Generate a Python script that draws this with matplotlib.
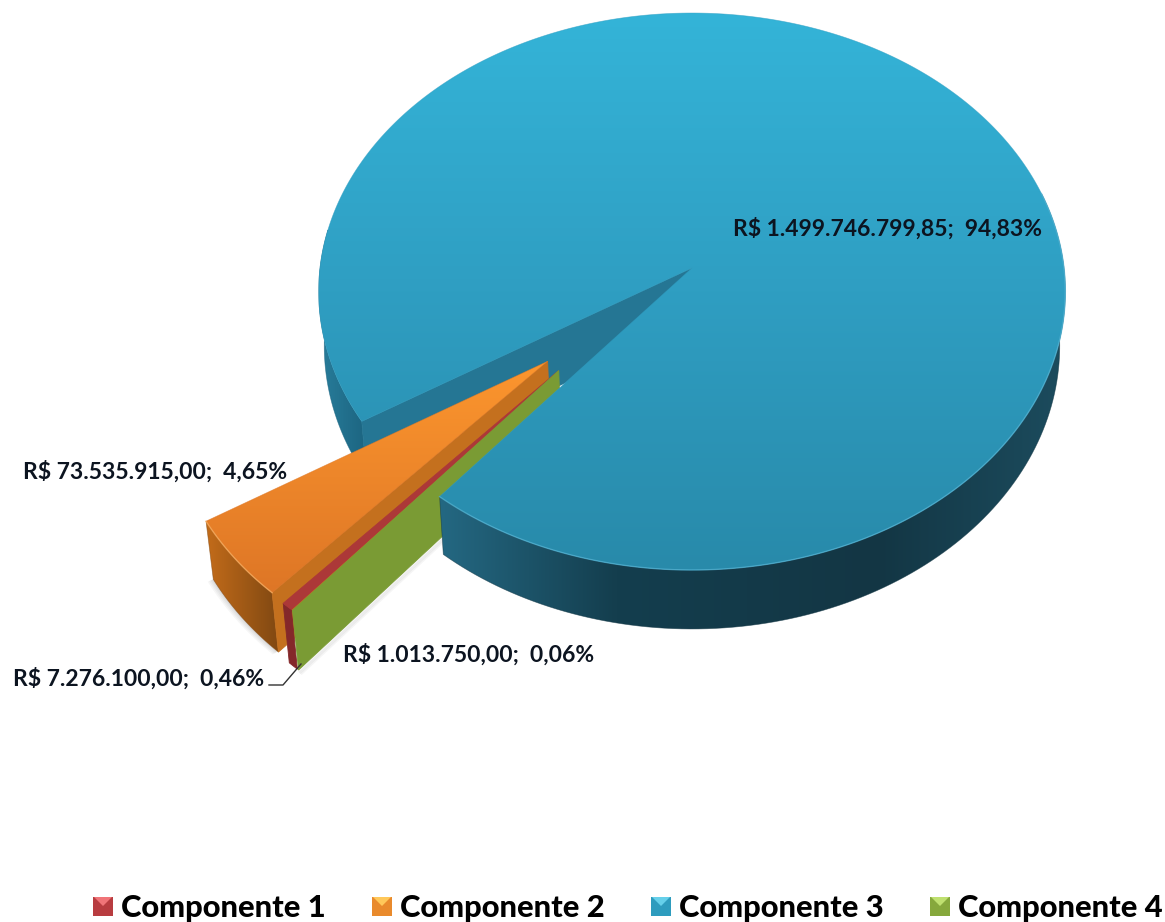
import numpy as np
import matplotlib
matplotlib.use("Agg")
import matplotlib.pyplot as plt
from matplotlib.patches import Polygon, Rectangle

componentes = ["Componente 1", "Componente 2", "Componente 3", "Componente 4"]
valores = [7276100.00, 73535915.00, 1499746799.85, 1013750.00]
percentuais = [0.46, 4.65, 94.83, 0.06]

# projecao do disco (unidades do raio) para pixels
CX, Y0 = 692.0, 268.0
A, B, K = 372.0, 276.5, 0.0844
ALTURA = 54.0
INICIO_C3 = 212.0  # angulo onde comeca a fatia 3, sentido horario
EXPLODE = {0: (0.5, 226.0), 1: (0.5, 221.0), 3: (0.5, 226.0)}
RAIO_SOLTO = 0.985

plt.rcParams["font.family"] = ["Lato", "DejaVu Sans"]

fig = plt.figure(figsize=(11.65, 9.22), dpi=100)
ax = fig.add_axes([0, 0, 1, 1])
ax.set_axis_off()
ax.set_xlim(0, 1165)
ax.set_ylim(922, 0)
ax.set_autoscale_on(False)


def proj(u, v, h=0.0):
    w = 1 + K * v
    x = CX + A * u / w
    y = Y0 - B * v / w
    if h:
        x = CX + (x - CX) * 0.985
        y = y + h / w
    return np.column_stack([np.atleast_1d(x), np.atleast_1d(y)])


def deslocamento(i):
    if i not in EXPLODE:
        return 0.0, 0.0
    m, a = EXPLODE[i]
    return m * np.cos(np.radians(a)), m * np.sin(np.radians(a))


def aro(ang1, ang2, i=None, h=0.0, n=120):
    t = np.radians(np.linspace(ang1, ang2, n))
    du, dv = deslocamento(i)
    r = RAIO_SOLTO if i in EXPLODE else 1.0
    return proj(du + r * np.cos(t), dv + r * np.sin(t), h)


def centro(i=None, h=0.0):
    du, dv = deslocamento(i)
    return proj(du, dv, h)


def solido(pts, cor, z):
    c = tuple(k / 255 for k in cor)
    ax.add_patch(Polygon(pts, closed=True, fc=c, ec=c, lw=0.6, zorder=z))


def verlauf(pts, paradas, z, horizontal=False):
    # gradiente recortado pelo poligono
    x0, y0 = pts.min(axis=0)
    x1, y1 = pts.max(axis=0)
    pos = np.linspace(0, 1, 256)
    arr = np.stack([np.interp(pos, [p[0] for p in paradas], [p[1][c] / 255 for p in paradas])
                    for c in range(3)], axis=-1)
    arr = arr[np.newaxis, :, :] if horizontal else arr[:, np.newaxis, :]
    im = ax.imshow(arr, extent=(x0, x1, y1, y0), aspect="auto", zorder=z, interpolation="bilinear")
    im.set_clip_path(Polygon(pts, closed=True, transform=ax.transData))
    cor = paradas[len(paradas) // 2][1]
    ax.add_patch(Polygon(pts, closed=True, fc="none", ec=tuple(c / 255 for c in cor),
                         lw=0.5, alpha=0.6, zorder=z + 0.1))


def parede(ang1, ang2, i=None):
    return np.vstack([aro(ang1, ang2, i), aro(ang2, ang1, i, ALTURA)])


def lado(ang, i=None):
    return np.vstack([centro(i), aro(ang, ang, i, n=1), aro(ang, ang, i, ALTURA, n=1), centro(i, ALTURA)])


# angulos a partir dos valores (horario: 3 -> 4 -> 1 -> 2)
total = sum(valores)
varre = [v / total * 360 for v in valores]
c2_ini = INICIO_C3 + varre[1]
c1_ini = c2_ini + varre[0]
c4_ini = c1_ini + varre[3]
c3_fim = INICIO_C3 - varre[2]

# fatia 3: fundo (parede lateral esquerda e corte)
verlauf(parede(INICIO_C3, 172), [(0, (40, 125, 155)), (1, (28, 100, 128))], 1, horizontal=True)
solido(lado(INICIO_C3), (37, 118, 148), 2)

# sombra suave abaixo das fatias soltas
contorno = np.vstack([aro(INICIO_C3, c2_ini, 1, ALTURA), centro(1, ALTURA)])
for s in (2, 4, 6, 8):
    ax.add_patch(Polygon(contorno + [-s * 0.7, s * 0.3], closed=True, fc="black", ec="none",
                         alpha=0.035, zorder=3))
base_v = np.vstack([aro(c4_ini, c4_ini, 3, ALTURA, n=1), centro(3, ALTURA)])
for s in (1.5, 3, 4.5):
    ax.plot(base_v[:, 0] + s * 0.7, base_v[:, 1] + s * 0.7, color="black", lw=2, alpha=0.04, zorder=3)

# componente 2
verlauf(parede(INICIO_C3, c2_ini, 1), [(0, (195, 108, 26)), (1, (128, 72, 18))], 4, horizontal=True)
solido(lado(c2_ini, 1), (196, 112, 30), 5)
topo2 = np.vstack([centro(1), aro(INICIO_C3, c2_ini, 1)])
verlauf(topo2, [(0, (252, 150, 46)), (1, (222, 118, 38))], 6)
ax.plot(*aro(INICIO_C3, c2_ini, 1).T, color=(0.98, 0.7, 0.4), lw=1, alpha=0.7, zorder=6.5)

# componente 1
solido(parede(c2_ini, c1_ini, 0), (132, 40, 42), 7)
solido(np.vstack([centro(0), aro(c2_ini, c1_ini, 0)]), (172, 56, 56), 8)

# componente 4: praticamente so a parede aparece
solido(lado(c4_ini, 3), (122, 155, 52), 9)

# fatia 3: frente e topo
verlauf(parede(c3_fim, 16), [(0, (36, 104, 130)), (0.28, (20, 62, 78)), (0.7, (19, 54, 68)),
                             (1, (28, 76, 94))], 10, horizontal=True)
topo3 = np.vstack([centro(), aro(INICIO_C3, c3_fim, None, n=500)])
verlauf(topo3, [(0, (52, 180, 216)), (0.5, (47, 158, 194)), (1, (40, 138, 170))], 11)
ax.plot(*aro(c3_fim, 16).T, color=(0.35, 0.72, 0.85), lw=1, alpha=0.6, zorder=12)

# linha guia do rotulo da componente 1
guia_x = [301, 283, 269]
guia_y = [664, 685, 685]
ax.plot(guia_x, guia_y, color="#333333", lw=1, zorder=13)


def rotulo(i):
    v = f"{valores[i]:,.2f}".replace(",", "#").replace(".", ",").replace("#", ".")
    p = f"{percentuais[i]:.2f}".replace(".", ",")
    return f"R$ {v};  {p}%"


pos_rotulos = {2: (733, 229), 1: (23, 472), 0: (13, 679), 3: (343, 655)}
for i, (x, y) in pos_rotulos.items():
    ax.text(x, y, rotulo(i), fontsize=16.5, fontweight="bold", color="#0c1420",
            ha="left", va="center", zorder=14)

# legenda
cores_leg = ["#b83c40", "#e98a2c", "#2e9cbe", "#86a83c"]
claras_leg = ["#f07478", "#ffc85a", "#66d0ea", "#bfe070"]
leg_x = [93, 372, 651, 930]
for x, nome, cor, clara in zip(leg_x, componentes, cores_leg, claras_leg):
    ax.add_patch(Rectangle((x, 897), 20, 19, fc=cor, ec="none", zorder=14))
    ax.add_patch(Polygon([(x + 1, 897), (x + 19, 897), (x + 10, 906)], closed=True, fc=clara, ec="none", zorder=15))
    ax.text(x + 28, 908, nome, fontsize=22.2, fontweight="black", color="black",
            ha="left", va="center", zorder=14)

ax.set_xlim(0, 1165)
ax.set_ylim(922, 0)
fig.savefig("out.png", dpi=100, facecolor="white")
